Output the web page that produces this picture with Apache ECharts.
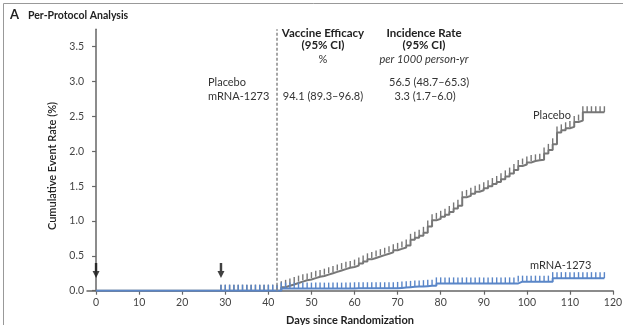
<!DOCTYPE html>
<html>
<head>
<meta charset="utf-8">
<script src="https://cdn.jsdelivr.net/npm/echarts@6/dist/echarts.min.js"></script>
<style>
  html, body { margin: 0; padding: 0; background: #fff; }
  #chart { width: 623px; height: 325px; }
</style>
</head>
<body>
<div id="chart"></div>
<script>
// first day with follow-up ticks (second dose), one value per day up to day 118
const startDay = 29
const placeboRate = [
    0, 0, 0, 0, 0, 0, 0, 0, 0, 0,
    0, 0, 0, 0, 0.05, 0.07, 0.09, 0.11, 0.13, 0.15,
    0.16, 0.18, 0.2, 0.21, 0.23, 0.25, 0.27, 0.29, 0.31, 0.33,
    0.34, 0.36, 0.39, 0.42, 0.45, 0.47, 0.49, 0.51, 0.53, 0.55,
    0.58, 0.6, 0.62, 0.65, 0.73, 0.76, 0.79, 0.83, 0.92, 1.01,
    1.03, 1.06, 1.09, 1.13, 1.18, 1.22, 1.34, 1.36, 1.39, 1.42,
    1.44, 1.47, 1.5, 1.53, 1.56, 1.6, 1.64, 1.68, 1.73, 1.79,
    1.81, 1.84, 1.86, 1.87, 1.88, 1.97, 2.02, 2.1, 2.27, 2.3,
    2.33, 2.35, 2.42, 2.44, 2.56, 2.56, 2.56, 2.56, 2.56, 2.56
]
const mrnaRate = [
    0, 0, 0, 0, 0, 0, 0, 0, 0, 0,
    0, 0, 0, 0, 0.03, 0.03, 0.03, 0.03, 0.03, 0.03,
    0.03, 0.03, 0.03, 0.03, 0.03, 0.03, 0.03, 0.03, 0.03, 0.03,
    0.03, 0.035, 0.035, 0.035, 0.035, 0.035, 0.035, 0.035, 0.035, 0.035,
    0.035, 0.04, 0.045, 0.05, 0.055, 0.06, 0.06, 0.065, 0.07, 0.07,
    0.105, 0.105, 0.105, 0.105, 0.105, 0.105, 0.105, 0.105, 0.105, 0.105,
    0.105, 0.105, 0.105, 0.105, 0.105, 0.105, 0.105, 0.105, 0.105, 0.13,
    0.13, 0.13, 0.13, 0.13, 0.13, 0.13, 0.13, 0.18, 0.18, 0.18,
    0.18, 0.18, 0.18, 0.18, 0.18, 0.18, 0.18, 0.18, 0.18, 0.18
]
const doseDays = [0, 29]
const arrowLevel = 0.29
const efficacyCutoffDay = 42
const xTicks = [0, 10, 20, 30, 40, 50, 60, 70, 80, 90, 100, 110, 120]
const yTicks = [0, 0.5, 1.0, 1.5, 2.0, 2.5, 3.0, 3.5]

const FONT = 'Lato'
const GREY = '#777'
const BLUE = '#5a86c8'

// step curve starts at randomization, censor ticks from day 29 on
function toSeries(rates) {
    const pts = [{ value: [0, 0], symbol: 'none' }]
    rates.forEach((v, i) => pts.push([startDay + i, v]))
    return pts
}

const chart = echarts.init(document.getElementById('chart'), null, { renderer: 'canvas' })

const tickMark = {
    symbol: 'rect',
    symbolSize: [1.4, 6],
    symbolOffset: [0, -3]
}

const option = {
    animation: false,
    textStyle: { fontFamily: FONT },
    grid: { left: 87, right: 10, top: 29.3, bottom: 34.3, outerBoundsMode: 'none', containLabel: false },
    xAxis: {
        type: 'value',
        min: -2.1,
        max: 120,
        name: 'Days since Randomization',
        nameLocation: 'middle',
        nameGap: 24,
        nameTextStyle: { fontFamily: FONT, fontWeight: 'bold', fontSize: 11, color: '#222' },
        splitLine: { show: false },
        axisLine: { lineStyle: { color: '#666', width: 1.5 } },
        axisTick: { show: true, length: 4, customValues: xTicks, lineStyle: { color: '#666', width: 1.2 } },
        axisLabel: { customValues: xTicks, fontSize: 10.5, color: '#444', margin: 6 }
    },
    yAxis: {
        type: 'value',
        min: 0,
        max: 3.75,
        splitLine: { show: false },
        axisLine: { show: true, lineStyle: { color: '#666', width: 1.5 } },
        axisTick: { show: true, length: 4, customValues: yTicks, lineStyle: { color: '#666', width: 1.2 } },
        axisLabel: {
            customValues: yTicks, fontSize: 10.5, color: '#444', margin: 3,
            formatter: v => v.toFixed(1)
        }
    },
    series: [
        {
            name: 'Placebo',
            type: 'line',
            step: 'end',
            data: toSeries(placeboRate),
            lineStyle: { color: GREY, width: 2 },
            itemStyle: { color: GREY },
            ...tickMark,
            showSymbol: true,
            z: 2,
            markLine: {
                silent: true,
                symbol: 'none',
                label: { show: false },
                lineStyle: { color: '#8a8a8a', type: [3, 2], width: 1.5 },
                data: [{ xAxis: efficacyCutoffDay }]
            }
        },
        {
            name: 'mRNA-1273',
            type: 'line',
            step: 'end',
            data: toSeries(mrnaRate),
            lineStyle: { color: BLUE, width: 2 },
            itemStyle: { color: BLUE },
            ...tickMark,
            showSymbol: true,
            z: 3
        },
        {
            name: 'dose',
            type: 'scatter',
            data: doseDays.map(d => [d, arrowLevel]),
            symbol: 'path://M2.6,0 L5.4,0 L5.4,8 L8,8 L4,15 L0,8 L2.6,8 Z',
            symbolSize: [7, 15],
            itemStyle: { color: '#111' },
            z: 4
        }
    ],
    graphic: [
        // frame edges
        { type: 'line', shape: { x1: 3.5, y1: 3.5, x2: 623, y2: 3.5 }, style: { stroke: '#999', lineWidth: 1 } },
        { type: 'line', shape: { x1: 3.5, y1: 3.5, x2: 3.5, y2: 325 }, style: { stroke: '#999', lineWidth: 1 } },
        { type: 'text', left: 10, top: 8.5, style: { text: 'A', font: 'bold 13px ' + FONT, fill: '#222' } },
        { type: 'text', left: 28, top: 10, style: { text: 'Per-Protocol Analysis', font: 'bold 10.5px ' + FONT, fill: '#222' } },
        {
            type: 'text', x: 52, y: 166, rotation: Math.PI / 2,
            style: { text: 'Cumulative Event Rate (%)', font: '600 11px ' + FONT, fill: '#222', align: 'center', verticalAlign: 'middle' }
        },
        { type: 'text', x: 323, y: 33, style: { text: 'Vaccine Efficacy', font: 'bold 11.5px ' + FONT, fill: '#222', align: 'center', verticalAlign: 'middle' } },
        { type: 'text', x: 323, y: 45.5, style: { text: '(95% CI)', font: 'bold 11.5px ' + FONT, fill: '#222', align: 'center', verticalAlign: 'middle' } },
        { type: 'text', x: 323, y: 59.5, style: { text: '%', font: '11px ' + FONT, fill: '#333', align: 'center', verticalAlign: 'middle' } },
        { type: 'text', x: 424, y: 33, style: { text: 'Incidence Rate', font: 'bold 11.5px ' + FONT, fill: '#222', align: 'center', verticalAlign: 'middle' } },
        { type: 'text', x: 424, y: 45.5, style: { text: '(95% CI)', font: 'bold 11.5px ' + FONT, fill: '#222', align: 'center', verticalAlign: 'middle' } },
        { type: 'text', x: 424, y: 59.5, style: { text: 'per 1000 person-yr', font: 'italic 11px ' + FONT, fill: '#333', align: 'center', verticalAlign: 'middle' } },
        { type: 'text', x: 208, y: 82.5, style: { text: 'Placebo', font: '11px ' + FONT, fill: '#333', verticalAlign: 'middle' } },
        { type: 'text', x: 208, y: 96, style: { text: 'mRNA-1273', font: '11px ' + FONT, fill: '#333', verticalAlign: 'middle' } },
        { type: 'text', x: 323, y: 96, style: { text: '94.1 (89.3–96.8)', font: '11px ' + FONT, fill: '#333', align: 'center', verticalAlign: 'middle' } },
        { type: 'text', x: 389, y: 82.5, style: { text: '56.5 (48.7–65.3)', font: '11px ' + FONT, fill: '#333', verticalAlign: 'middle' } },
        { type: 'text', x: 394.5, y: 96, style: { text: '3.3 (1.7–6.0)', font: '11px ' + FONT, fill: '#333', verticalAlign: 'middle' } },
        { type: 'text', x: 533, y: 115.5, style: { text: 'Placebo', font: '11px ' + FONT, fill: '#333', verticalAlign: 'middle' } },
        { type: 'text', x: 530, y: 265.5, style: { text: 'mRNA-1273', font: '11px ' + FONT, fill: '#333', verticalAlign: 'middle' } }
    ]
}

chart.setOption(option)

window.addEventListener('resize', () => chart.resize())
</script>
</body>
</html>
